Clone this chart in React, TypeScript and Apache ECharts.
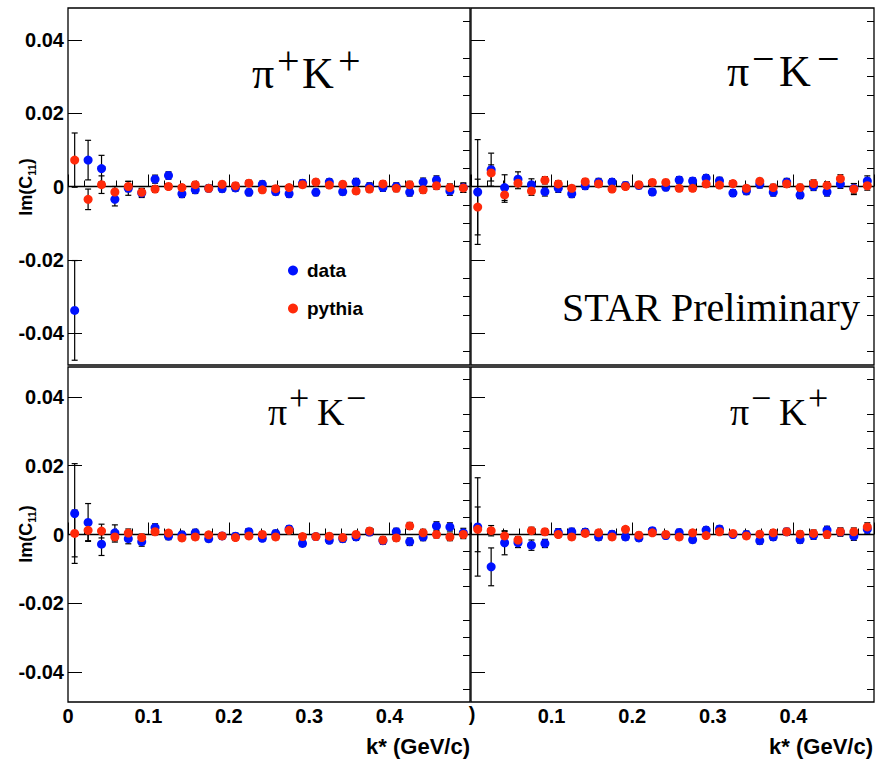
import React, { useEffect, useRef } from 'react';
import * as echarts from 'echarts';

// bin centres of k* (GeV/c), 30 bins of width 1/60
const kStar = [0.0083, 0.025, 0.0417, 0.0583, 0.075, 0.0917, 0.1083, 0.125, 0.1417, 0.1583,
  0.175, 0.1917, 0.2083, 0.225, 0.2417, 0.2583, 0.275, 0.2917, 0.3083, 0.325,
  0.3417, 0.3583, 0.375, 0.3917, 0.4083, 0.425, 0.4417, 0.4583, 0.475, 0.4917];

// pi+ K+
const ppData = [-0.0338, 0.0072, 0.0049, -0.0035, -0.0005, -0.0018, 0.002, 0.003, -0.002, -0.0009,
  -0.0005, -0.0006, -0.0004, -0.0016, 0.0006, -0.0014, -0.002, 0.0009, -0.0016, 0.0012,
  -0.0014, 0.0012, 0.0, -0.0003, 0.0, -0.0016, 0.0012, 0.0018, -0.0012, -0.0003];
const ppDataErr = [0.0136, 0.0054, 0.0036, 0.0018, 0.0019, 0.0012, 0.0011, 0.001, 0.001, 0.001,
  0.0009, 0.0009, 0.0009, 0.0009, 0.0009, 0.0009, 0.0009, 0.0009, 0.0009, 0.0009,
  0.0009, 0.001, 0.001, 0.001, 0.001, 0.001, 0.0011, 0.0011, 0.0012, 0.0013];
const ppPythia = [0.0072, -0.0035, 0.0005, -0.0015, 0.0, -0.0016, -0.0007, 0.0, -0.0003, 0.0005,
  -0.0005, 0.0006, 0.0002, 0.0009, -0.0009, -0.0006, -0.0003, 0.0005, 0.0012, 0.0004,
  0.0006, -0.0012, -0.0007, 0.0007, -0.0005, 0.0005, -0.0009, 0.0002, -0.0003, -0.0004];
const ppPythiaErr = [0.0074, 0.0028, 0.0024, 0.0015, 0.0014, 0.0011, 0.0009, 0.0008, 0.0008, 0.0008,
  0.0008, 0.0008, 0.0008, 0.0008, 0.0008, 0.0008, 0.0008, 0.0008, 0.0008, 0.0008,
  0.0008, 0.0008, 0.0008, 0.0008, 0.0009, 0.0009, 0.0009, 0.001, 0.001, 0.0012];

// pi- K-
const mmData = [-0.0015, 0.0046, -0.0003, 0.002, 0.0005, -0.0014, -0.0005, -0.002, 0.0002, 0.0012,
  0.0012, 0.0003, 0.0003, -0.0015, -0.0002, 0.0018, 0.0015, 0.0023, 0.0016, -0.0018,
  -0.0012, 0.0006, -0.0016, 0.0012, -0.0023, 0.0, -0.0015, 0.0007, -0.0005, 0.0015];
const mmDataErr = [0.0143, 0.0045, 0.0035, 0.002, 0.0016, 0.0012, 0.0011, 0.001, 0.001, 0.001,
  0.0009, 0.0009, 0.0009, 0.0009, 0.0009, 0.0009, 0.0009, 0.0009, 0.0009, 0.0009,
  0.001, 0.001, 0.001, 0.001, 0.001, 0.0011, 0.0011, 0.0012, 0.0013, 0.0014];
const mmPythia = [-0.0056, 0.0037, -0.0023, 0.0009, -0.0012, 0.0017, 0.0007, -0.0005, 0.0013, 0.0007,
  -0.0007, 0.0, 0.0005, 0.0011, 0.0011, -0.0005, -0.0005, 0.0007, 0.0004, 0.0008,
  -0.0005, 0.0014, -0.0003, 0.0007, -0.0003, 0.0008, 0.0003, 0.0021, -0.0007, 0.0002];
const mmPythiaErr = [0.0076, 0.0022, 0.002, 0.0015, 0.0012, 0.001, 0.0009, 0.0008, 0.0008, 0.0008,
  0.0008, 0.0008, 0.0008, 0.0008, 0.0008, 0.0008, 0.0008, 0.0008, 0.0008, 0.0008,
  0.0008, 0.0008, 0.0009, 0.0009, 0.0009, 0.001, 0.001, 0.0011, 0.0015, 0.0012];

// pi+ K-
const pmData = [0.0061, 0.0035, -0.0028, 0.0005, -0.0012, -0.0021, 0.002, -0.0005, -0.0001, 0.0005,
  -0.0012, -0.0004, -0.0005, 0.0008, -0.0011, 0.0003, 0.0016, -0.0026, -0.0006, -0.0017,
  -0.0012, -0.0007, 0.0007, -0.0018, 0.0008, -0.0021, -0.0007, 0.0025, 0.0022, 0.0005];
const pmDataErr = [0.0145, 0.0055, 0.0033, 0.0023, 0.0015, 0.0013, 0.0011, 0.001, 0.001, 0.001,
  0.0009, 0.0009, 0.0009, 0.0009, 0.0009, 0.0009, 0.0009, 0.0009, 0.0009, 0.0009,
  0.001, 0.001, 0.001, 0.001, 0.001, 0.0011, 0.0011, 0.0012, 0.0012, 0.0013];
const pmPythia = [0.0003, 0.0012, 0.001, -0.0007, 0.0004, -0.0009, 0.0008, 0.0004, -0.001, -0.0007,
  -0.0001, -0.0004, -0.0009, -0.0004, 0.0, -0.0007, 0.0012, -0.0006, -0.0006, -0.0005,
  -0.0009, 0.0, 0.001, -0.0016, -0.001, 0.0025, 0.0005, 0.0, -0.0007, 0.0];
const pmPythiaErr = [0.0068, 0.003, 0.002, 0.0015, 0.0012, 0.001, 0.0009, 0.0008, 0.0008, 0.0008,
  0.0008, 0.0008, 0.0008, 0.0008, 0.0008, 0.0008, 0.0008, 0.0008, 0.0008, 0.0008,
  0.0008, 0.0008, 0.0009, 0.0009, 0.0009, 0.001, 0.001, 0.001, 0.0011, 0.0012];

// pi- K+
const mpData = [0.0022, -0.0094, -0.0024, -0.0024, -0.0031, -0.0026, 0.0006, 0.0008, 0.0007, -0.0007,
  0.0001, -0.0007, -0.001, 0.0011, -0.0003, 0.0006, -0.0015, 0.0013, 0.0016, 0.0,
  0.0, -0.0018, -0.0007, 0.0008, -0.0015, -0.0003, 0.0013, 0.0007, -0.0005, 0.0015];
const mpDataErr = [0.0143, 0.0055, 0.0035, 0.0014, 0.0015, 0.0012, 0.0011, 0.001, 0.001, 0.001,
  0.0009, 0.0009, 0.0009, 0.0009, 0.0009, 0.0009, 0.0009, 0.0009, 0.0009, 0.0009,
  0.001, 0.001, 0.001, 0.001, 0.001, 0.0011, 0.0011, 0.0012, 0.0012, 0.0013];
const mpPythia = [0.0015, 0.0011, -0.0004, -0.0016, 0.0011, 0.0008, 0.0, -0.0007, 0.0003, 0.0005,
  -0.0007, 0.0015, -0.0002, 0.0005, 0.0, -0.0007, 0.0005, -0.0003, 0.0008, 0.0003,
  -0.0004, 0.0001, 0.0005, 0.0008, 0.0001, 0.0003, 0.0, 0.0008, 0.0008, 0.0022];
const mpPythiaErr = [0.0065, 0.0015, 0.0013, 0.001, 0.001, 0.0009, 0.0008, 0.0008, 0.0008, 0.0008,
  0.0008, 0.0008, 0.0008, 0.0008, 0.0008, 0.0008, 0.0008, 0.0008, 0.0008, 0.0008,
  0.0008, 0.0008, 0.0009, 0.0009, 0.0009, 0.001, 0.001, 0.001, 0.0011, 0.0012];

const yMajorTicks = [-0.04, -0.02, 0, 0.02, 0.04];
const yTickLabels = ['-0.04', '-0.02', '0', '0.02', '0.04'];
const yMinorTicks = [-0.045, -0.035, -0.03, -0.025, -0.015, -0.01, -0.005,
  0.005, 0.01, 0.015, 0.025, 0.03, 0.035, 0.045];
const xTickLabels = ['0', '0.1', '0.2', '0.3', '0.4'];
const seriesNames = ['data', 'pythia'];
const titleCharges = [['+', '+'], ['−', '−'], ['+', '−'], ['−', '+']];

const X_MIN = 0, X_MAX = 0.5, Y_LIM = 0.0487;
const BLUE = '#0012ff';
const RED = '#ff2a0a';
const SANS = '"Liberation Sans", Arial, Helvetica, sans-serif';
const SERIF = '"Liberation Serif", "Times New Roman", Times, serif';

const panels = [
  { grid: { left: 68, top: 8, width: 402, height: 357 }, d: ppData, de: ppDataErr, p: ppPythia, pe: ppPythiaErr, yLab: true, xLab: 0 },
  { grid: { left: 471, top: 8, width: 403, height: 357 }, d: mmData, de: mmDataErr, p: mmPythia, pe: mmPythiaErr, yLab: false, xLab: 0 },
  { grid: { left: 68, top: 367, width: 402, height: 335 }, d: pmData, de: pmDataErr, p: pmPythia, pe: pmPythiaErr, yLab: true, xLab: 1 },
  { grid: { left: 471, top: 367, width: 403, height: 335 }, d: mpData, de: mpDataErr, p: mpPythia, pe: mpPythiaErr, yLab: false, xLab: 2 },
];

const errRender = (params: any, api: any) => {
  const x = api.value(0), y = api.value(1), e = api.value(2);
  const t = api.coord([x, y + e]);
  const b = api.coord([x, y - e]);
  const c = 3;
  const style = { stroke: '#000', lineWidth: 1.2 };
  return {
    type: 'group',
    children: [
      { type: 'line', shape: { x1: t[0], y1: t[1], x2: b[0], y2: b[1] }, style },
      { type: 'line', shape: { x1: t[0] - c, y1: t[1], x2: t[0] + c, y2: t[1] }, style },
      { type: 'line', shape: { x1: b[0] - c, y1: b[1], x2: b[0] + c, y2: b[1] }, style },
    ],
  };
};

// title layout: x of left edge, baseline, main font size, superscript size, glyph offsets
const titleLayout = [
  { x: 252, base: 88, fs: 44, ss: 40, off: [0, 25, 50, 86], raise: 26 },
  { x: 727, base: 86, fs: 44, ss: 40, off: [0, 25, 52, 90], raise: 26 },
  { x: 268, base: 425, fs: 38, ss: 36, off: [0, 21, 49, 78], raise: 25 },
  { x: 730, base: 425, fs: 38, ss: 36, off: [0, 21, 49, 78], raise: 25 },
];

function buildOption() {
  const grid: any[] = [];
  const xAxis: any[] = [];
  const yAxis: any[] = [];
  const series: any[] = [];
  panels.forEach((pn, i) => {
    grid.push({ ...pn.grid, show: true, borderColor: '#000', borderWidth: 1.3, backgroundColor: '#fff' });
    xAxis.push({
      type: 'value', gridIndex: i, min: X_MIN, max: X_MAX, interval: 0.1,
      axisLine: { show: false }, splitLine: { show: false },
      axisTick: { show: true, inside: true, length: 12, lineStyle: { color: '#000', width: 1 } },
      minorTick: { show: true, splitNumber: 5, length: 6, lineStyle: { color: '#000', width: 1 } },
      axisLabel: {
        show: pn.xLab > 0, margin: 4, color: '#000', fontFamily: SANS, fontWeight: 'bold', fontSize: 20,
        formatter: (v: number) => {
          const idx = Math.round(v * 10);
          if (idx >= xTickLabels.length) return '';
          if (pn.xLab === 2 && idx === 0) return '';
          return xTickLabels[idx];
        },
      },
    });
    yAxis.push({
      type: 'value', gridIndex: i, min: -Y_LIM, max: Y_LIM,
      axisLine: { show: false }, splitLine: { show: false },
      axisTick: { show: true, inside: true, length: 14, customValues: yMajorTicks, lineStyle: { color: '#000', width: 1 } },
      axisLabel: {
        show: pn.yLab, margin: 4, customValues: yMajorTicks, color: '#000', fontFamily: SANS, fontWeight: 'bold', fontSize: 20,
        formatter: (v: number) => {
          const k = yMajorTicks.findIndex((t) => Math.abs(t - v) < 1e-6);
          return k >= 0 ? yTickLabels[k] : '';
        },
      },
    });
    yAxis.push({
      type: 'value', gridIndex: i, min: -Y_LIM, max: Y_LIM,
      axisLine: { show: false }, splitLine: { show: false },
      axisTick: { show: true, inside: true, length: 7, customValues: yMinorTicks, lineStyle: { color: '#000', width: 1 } },
      axisLabel: { show: false },
    });
    const yIdx = i * 2;
    series.push({
      type: 'line', xAxisIndex: i, yAxisIndex: yIdx, data: [[X_MIN, 0], [X_MAX, 0]],
      symbol: 'none', lineStyle: { color: '#000', width: 1.4 }, silent: true, z: 1,
    });
    series.push({
      type: 'custom', xAxisIndex: i, yAxisIndex: yIdx, renderItem: errRender, clip: true, silent: true, z: 2,
      data: kStar.map((k, j) => [k, pn.d[j], pn.de[j]]),
    });
    series.push({
      type: 'custom', xAxisIndex: i, yAxisIndex: yIdx, renderItem: errRender, clip: true, silent: true, z: 2,
      data: kStar.map((k, j) => [k, pn.p[j], pn.pe[j]]),
    });
    series.push({
      name: seriesNames[0], type: 'scatter', xAxisIndex: i, yAxisIndex: yIdx, symbol: 'circle', symbolSize: 9,
      itemStyle: { color: BLUE, opacity: 1 }, z: 3, data: kStar.map((k, j) => [k, pn.d[j]]),
    });
    series.push({
      name: seriesNames[1], type: 'scatter', xAxisIndex: i, yAxisIndex: yIdx, symbol: 'circle', symbolSize: 9,
      itemStyle: { color: RED, opacity: 1 }, z: 4, data: kStar.map((k, j) => [k, pn.p[j]]),
    });
  });

  const graphic: any[] = [];
  titleCharges.forEach((c, i) => {
    const L = titleLayout[i];
    const mainY = L.base - 0.3375 * L.fs;
    const supY = L.base - L.raise - 2;
    const parts = [
      { t: 'π', size: L.fs, y: mainY },
      { t: c[0], size: L.ss, y: supY },
      { t: 'K', size: L.fs, y: mainY },
      { t: c[1], size: L.ss, y: supY },
    ];
    graphic.push({
      type: 'group', x: L.x, y: 0,
      children: parts.map((p, k) => ({
        type: 'text', x: L.off[k], y: p.y,
        style: { text: p.t, fontFamily: SERIF, fontSize: p.size, fill: '#000', align: 'left', verticalAlign: 'middle' },
      })),
    });
  });
  graphic.push({
    type: 'text', x: 562, y: 307,
    style: { text: 'STAR Preliminary', fontFamily: SERIF, fontSize: 40, fill: '#000', verticalAlign: 'middle', align: 'left' },
  });
  const imRich = {
    a: { fontFamily: SANS, fontWeight: 'bold', fontSize: 18, lineHeight: 22, color: '#000' },
    b: { fontFamily: SANS, fontWeight: 'bold', fontSize: 11, lineHeight: 10, verticalAlign: 'bottom', color: '#000' },
  };
  [187, 534].forEach((yy) => {
    graphic.push({
      type: 'text', x: 26, y: yy, rotation: Math.PI / 2,
      style: { text: '{a|Im(C}{b|11}{a|)}', rich: imRich, align: 'center', verticalAlign: 'middle' },
    });
  });
  [470, 873].forEach((xx) => {
    graphic.push({
      type: 'text', x: xx, y: 746,
      style: { text: 'k* (GeV/c)', fontFamily: SANS, fontWeight: 'bold', fontSize: 22, fill: '#000', align: 'right', verticalAlign: 'middle' },
    });
  });
  graphic.push({
    type: 'text', x: 472, y: 714,
    style: { text: ')', fontFamily: SANS, fontWeight: 'bold', fontSize: 20, fill: '#000', align: 'center', verticalAlign: 'middle' },
  });

  return {
    animation: false,
    backgroundColor: '#fff',
    grid, xAxis, yAxis, series, graphic,
    legend: {
      orient: 'vertical', left: 288, top: 261, padding: 0, itemGap: 19, itemWidth: 10, itemHeight: 10,
      icon: 'circle', data: seriesNames,
      textStyle: { fontFamily: SANS, fontWeight: 'bold', fontSize: 19, color: '#000', padding: [0, 0, 0, 4] },
    },
  };
}

export default function App() {
  const ref = useRef<HTMLDivElement>(null);
  useEffect(() => {
    if (!ref.current) return;
    const chart = echarts.init(ref.current, undefined, { renderer: 'svg' });
    chart.setOption(buildOption() as any);
    return () => chart.dispose();
  }, []);
  return <div ref={ref} style={{ position: 'absolute', left: 0, top: 0, width: 878, height: 760 }} />;
}
